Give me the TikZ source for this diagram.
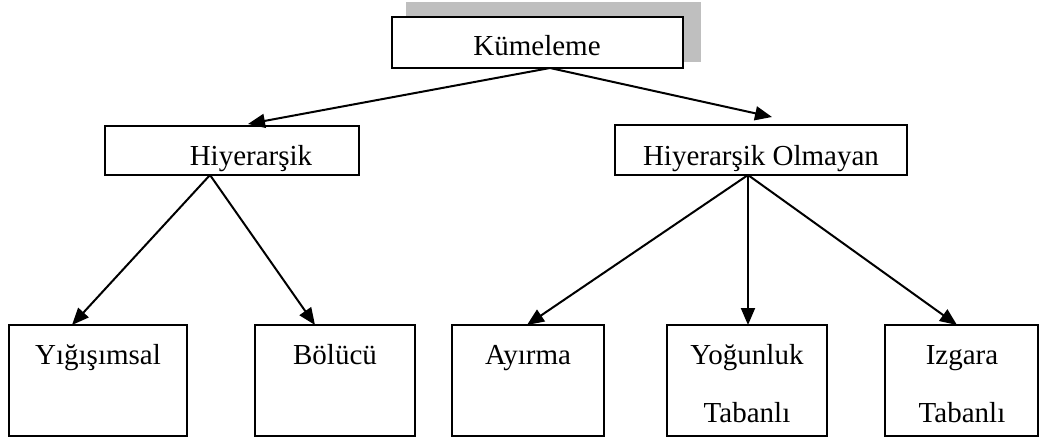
\documentclass[tikz,border=0pt]{standalone}
\usepackage{fontspec}
\setmainfont{Liberation Serif}
\usetikzlibrary{arrows.meta}
\tikzset{
  box/.style={draw=black, line width=1pt, fill=white, inner sep=0pt},
  txt/.style={inner sep=0pt, anchor=base, font=\fontsize{14.5}{17}\selectfont},
  conn/.style={line width=1pt, -{Triangle[length=8.5pt,width=7pt]}, shorten >=0pt},
  shadowbox/.style={fill=black!25, draw=none}
}
\begin{document}
\begin{tikzpicture}[x=0.5pt,y=-0.5pt]
\useasboundingbox (0,0) rectangle (1041,439);
% shadow
\fill[shadowbox] (406,2) rectangle (701,62);
% boxes
\node[box, minimum width=145.5pt, minimum height=25.5pt] (kum) at (537.5,42.5) {};
\node[txt] at (537,55) {Kümeleme};
\node[box, minimum width=127pt, minimum height=24.5pt] (hier) at (232,150.5) {};
\node[txt] at (251,165) {Hiyerarşik};
\node[box, minimum width=146pt, minimum height=25pt] (hol) at (761,150) {};
\node[txt] at (761,165) {Hiyerarşik Olmayan};
% bottom boxes
\node[box, minimum width=89pt, minimum height=55.5pt] (yig) at (98,380.5) {};
\node[txt] at (98,364) {Yığışımsal};
\node[box, minimum width=80pt, minimum height=55.5pt] (bol) at (335,380.5) {};
\node[txt] at (335,364) {Bölücü};
\node[box, minimum width=76pt, minimum height=55.5pt] (ayr) at (528,380.5) {};
\node[txt] at (528,364) {Ayırma};
\node[box, minimum width=80pt, minimum height=55.5pt] (yog) at (747,380.5) {};
\node[txt] at (747,364) {Yoğunluk};
\node[txt] at (747,422) {Tabanlı};
\node[box, minimum width=76.5pt, minimum height=55.5pt] (izg) at (961.5,380.5) {};
\node[txt] at (962,364) {Izgara};
\node[txt] at (962,422) {Tabanlı};
% connector end points
\coordinate (kumout) at (550,68);
\coordinate (hierin) at (248,124);
\coordinate (holin) at (772,117);
\coordinate (hierout) at (210,175);
\coordinate (holout) at (748,175);
\coordinate (yigin) at (72,325);
\coordinate (bolin) at (315,325);
\coordinate (ayrin) at (527,325);
\coordinate (yogin) at (748,325);
\coordinate (izgin) at (957,325);
% connectors
\draw[conn] (kumout) -- (hierin);
\draw[conn] (kumout) -- (holin);
\draw[conn] (hierout) -- (yigin);
\draw[conn] (hierout) -- (bolin);
\draw[conn] (holout) -- (ayrin);
\draw[conn] (holout) -- (yogin);
\draw[conn] (holout) -- (izgin);
\end{tikzpicture}
\end{document}
